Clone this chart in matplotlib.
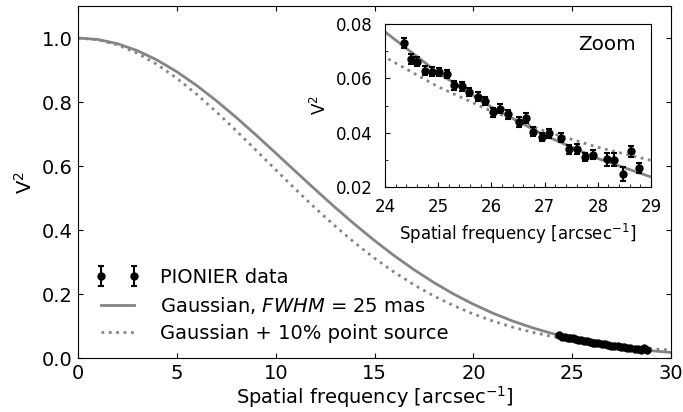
# Imports

from matplotlib import pyplot
from matplotlib.ticker import MultipleLocator

# Data

pionierFrequency = [24.35, 24.48, 24.61, 24.76, 24.88, 25.02, 25.16, 25.30, 25.44, 25.57,
                    25.74, 25.88, 26.03, 26.17, 26.31, 26.51, 26.65, 26.79, 26.95, 27.09,
                    27.31, 27.45, 27.60, 27.76, 27.90, 28.18, 28.31, 28.47, 28.63, 28.77]
pionierV2 = [0.0731, 0.0671, 0.0662, 0.0628, 0.0624, 0.0623, 0.0616, 0.0574, 0.0571, 0.0550,
             0.0533, 0.0517, 0.0475, 0.0488, 0.0467, 0.0439, 0.0453, 0.0404, 0.0384, 0.0397,
             0.0382, 0.0339, 0.0340, 0.0311, 0.0319, 0.0302, 0.0300, 0.0247, 0.0332, 0.0271]
pionierV2Error = [0.0019, 0.0017, 0.0017, 0.0017, 0.0016, 0.0016, 0.0016, 0.0017, 0.0016, 0.0016,
                  0.0016, 0.0016, 0.0017, 0.0016, 0.0016, 0.0017, 0.0018, 0.0016, 0.0016, 0.0016,
                  0.0017, 0.0017, 0.0018, 0.0016, 0.0016, 0.0023, 0.0024, 0.0026, 0.0020, 0.0018]

modelFrequency = [0, 1, 2, 3, 4, 5, 6, 7, 8, 9, 10, 11, 12, 13, 14, 15,
                  16, 17, 18, 19, 20, 21, 22, 23, 24, 25, 26, 27, 28, 29, 30]
gaussianV2 = [1.0000, 0.9956, 0.9824, 0.9607, 0.9313, 0.8947, 0.8520, 0.8041, 0.7522, 0.6974,
              0.6408, 0.5837, 0.5269, 0.4714, 0.4181, 0.3675, 0.3201, 0.2764, 0.2365, 0.2006,
              0.1687, 0.1405, 0.1161, 0.0950, 0.0771, 0.0620, 0.0494, 0.0390, 0.0305, 0.0237,
              0.0182]
pointSourceV2 = [1.0000, 0.9946, 0.9787, 0.9527, 0.9176, 0.8744, 0.8246, 0.7695, 0.7108, 0.6500,
                 0.5885, 0.5278, 0.4689, 0.4130, 0.3606, 0.3124, 0.2686, 0.2293, 0.1946, 0.1644,
                 0.1382, 0.1159, 0.0969, 0.0811, 0.0678, 0.0569, 0.0479, 0.0406, 0.0346, 0.0298,
                 0.0259]

# Style

fontSize = 14
zoomFontSize = 12
modelColor = "#858585"
pyplot.rcParams["font.size"] = fontSize
pyplot.rcParams["xtick.direction"] = "in"
pyplot.rcParams["ytick.direction"] = "in"

fig = pyplot.figure(figsize = (6.83, 4.12), dpi = 100)
ax = fig.add_axes([0.1142, 0.1303, 0.8685, 0.8551])
axZoom = fig.add_axes([0.5637, 0.5461, 0.3895, 0.3956])

# Plots

def plotSeries(axis):
    axis.plot(modelFrequency, gaussianV2, "-", color = modelColor, linewidth = 2,
              label = "Gaussian, $\\it{FWHM}$ = 25 mas")
    axis.plot(modelFrequency, pointSourceV2, ":", color = modelColor, linewidth = 2,
              label = "Gaussian + 10% point source")
    axis.errorbar(pionierFrequency, pionierV2, yerr = pionierV2Error, fmt = "o", color = "k",
                  markersize = 5, elinewidth = 1.5, capsize = 2.5, capthick = 1.5,
                  label = "PIONIER data")

plotSeries(ax)
plotSeries(axZoom)

# Main axes parameters

ax.set_xlim(0, 30)
ax.set_ylim(0, 1.1)
ax.set_yticks([0.0, 0.2, 0.4, 0.6, 0.8, 1.0])
ax.tick_params(top = True, right = True, pad = 4)
ax.set_xlabel("Spatial frequency [arcsec$^{-1}$]", labelpad = 1)
ax.set_ylabel("V$^2$")

handles, labels = ax.get_legend_handles_labels()
ax.legend([handles[2], handles[0], handles[1]], [labels[2], labels[0], labels[1]],
          loc = "lower left", bbox_to_anchor = (0.0, -0.005), numpoints = 2, frameon = False,
          fontsize = fontSize, handlelength = 2.3, handletextpad = 1.0, labelspacing = 0.4)

# Zoom axes parameters

axZoom.set_xlim(24, 29)
axZoom.set_ylim(0.02, 0.08)
axZoom.set_xticks([24, 25, 26, 27, 28, 29])
axZoom.set_yticks([0.02, 0.04, 0.06, 0.08])
axZoom.xaxis.set_minor_locator(MultipleLocator(0.2))
axZoom.yaxis.set_minor_locator(MultipleLocator(0.01))
axZoom.tick_params(which = "both", direction = "in", labelsize = zoomFontSize)
axZoom.tick_params(axis = "x", pad = 8)
axZoom.tick_params(axis = "y", pad = 9)
axZoom.set_xlabel("Spatial frequency [arcsec$^{-1}$]", fontsize = zoomFontSize, labelpad = 4)
axZoom.set_ylabel("V$^2$", fontsize = zoomFontSize, labelpad = 4)
axZoom.text(0.944, 0.935, "Zoom", transform = axZoom.transAxes, ha = "right", va = "top",
            fontsize = 14.4)

fig.savefig("out.png", dpi = 100)
pyplot.close()
